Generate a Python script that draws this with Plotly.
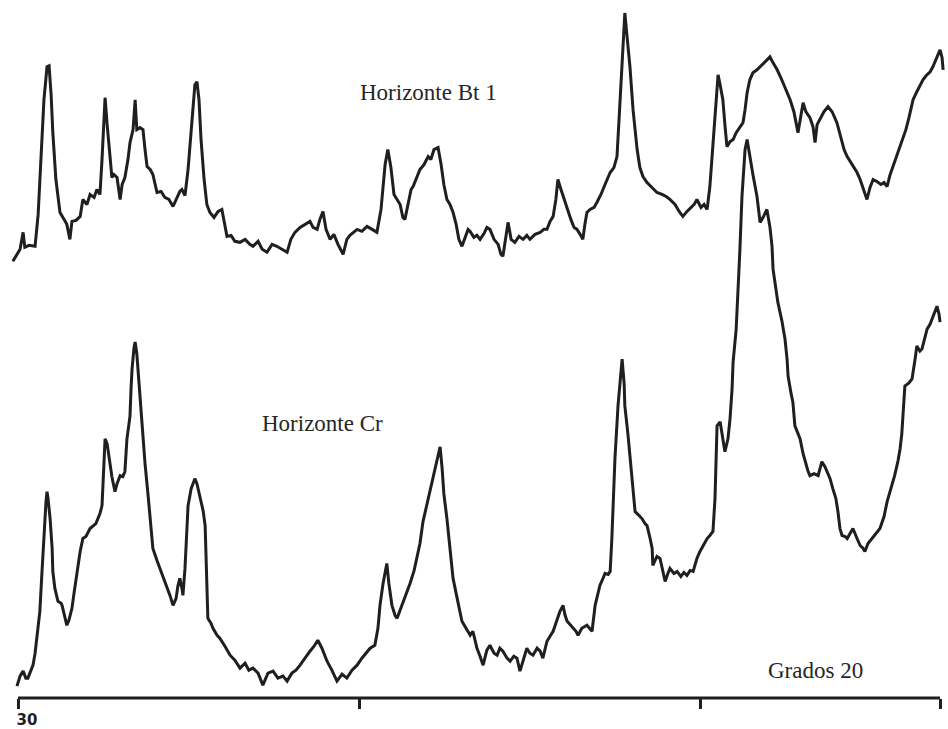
import plotly.graph_objects as go

# ---- Data (2-theta in degrees, intensity in arbitrary units) ----
bt_2theta = [30.15, 30.03, 29.94, 29.85, 29.80, 29.68, 29.50, 29.41, 29.33, 29.24, 29.15, 29.09, 29.03, 28.98, 28.89, 28.77, 28.65, 28.57, 28.48, 28.42, 28.30, 28.18, 28.10, 27.98, 27.89, 27.77, 27.69, 27.60, 27.54, 27.45, 27.39, 27.31, 27.25, 27.19, 27.10, 27.01, 26.95, 26.87, 26.78, 26.72, 26.63, 26.57, 26.52, 26.43, 26.34, 26.28, 26.22, 26.13, 26.05, 25.93, 25.81, 25.70, 25.58, 25.46, 25.34, 25.26, 25.20, 25.11, 25.02, 24.90, 24.82, 24.76, 24.70, 24.64, 24.55, 24.47, 24.38, 24.26, 24.14, 24.03, 23.94, 23.88, 23.76, 23.65, 23.50, 23.35, 23.21, 23.12, 22.97, 22.85, 22.71, 22.56, 22.42, 22.27, 22.12, 22.01, 21.89, 21.74, 21.60, 21.45, 21.36, 21.24, 21.16, 21.07, 20.98, 20.86, 20.75, 20.63, 20.48, 20.37, 20.28, 20.19, 20.07, 19.93, 19.78, 19.63, 19.49, 19.37, 19.25, 19.17, 19.08, 18.99, 18.90, 18.81, 18.73, 18.67, 18.58, 18.49, 18.43, 18.32, 18.23, 18.11, 17.99, 17.91, 17.82, 17.70, 17.61, 17.53, 17.44, 17.35, 17.26, 17.17, 17.09, 17.00, 16.91, 16.82, 16.76, 16.65, 16.56, 16.47, 16.35, 16.27, 16.18, 16.06, 15.94, 15.86, 15.80, 15.71, 15.65, 15.56, 15.45, 15.33, 15.21, 15.10, 15.01, 14.86, 14.71, 14.60, 14.51, 14.42, 14.33, 14.25, 14.19, 14.10, 14.01, 13.92, 13.81, 13.72, 13.63, 13.54, 13.46, 13.40, 13.34, 13.25, 13.13, 13.05, 12.93, 12.81, 12.72, 12.66, 12.55, 12.46, 12.40, 12.31, 12.25, 12.23, 12.17, 12.08, 11.99, 11.87, 11.79, 11.70, 11.58, 11.43, 11.29, 11.14, 11.02, 10.91, 10.76, 10.64, 10.53, 10.41, 10.29, 10.20, 10.12, 10.00, 9.91, 9.82, 9.74, 9.68, 9.59, 9.50, 9.44, 9.36, 9.30, 9.24, 9.15, 9.06, 8.97, 8.86, 8.77, 8.71, 8.65, 8.57, 8.48, 8.36, 8.27, 8.15, 8.07, 7.98, 7.89, 7.77, 7.66, 7.54, 7.39, 7.28, 7.16, 7.07, 7.01, 6.93, 6.81, 6.72, 6.66, 6.60, 6.52, 6.40, 6.28, 6.16, 6.02, 5.90, 5.81, 5.72, 5.61, 5.52, 5.43, 5.34, 5.23, 5.14, 5.05, 4.96, 4.85, 4.73, 4.64, 4.55, 4.47, 4.38, 4.26, 4.17, 4.09, 4.00, 3.91, 3.79, 3.68, 3.59, 3.50, 3.41, 3.29, 3.21, 3.12, 3.06, 3.00, 2.94, 2.91]
bt_intensity = [438, 445, 450, 467, 452, 454, 453, 485, 540, 600, 633, 634, 605, 567, 520, 487, 480, 475, 460, 478, 479, 483, 500, 495, 505, 502, 510, 505, 540, 602, 575, 540, 522, 525, 522, 500, 515, 522, 540, 557, 570, 600, 570, 572, 570, 550, 533, 530, 525, 507, 508, 502, 500, 493, 502, 508, 510, 504, 530, 580, 615, 618, 600, 560, 520, 495, 487, 482, 488, 490, 475, 463, 464, 458, 457, 460, 455, 453, 458, 450, 447, 455, 453, 450, 447, 460, 467, 472, 475, 478, 472, 470, 480, 488, 470, 460, 465, 455, 445, 460, 464, 467, 470, 468, 473, 470, 467, 490, 535, 550, 532, 505, 500, 495, 482, 480, 495, 510, 513, 523, 530, 535, 543, 540, 550, 552, 535, 515, 500, 495, 487, 475, 460, 453, 462, 470, 468, 462, 464, 460, 466, 472, 470, 460, 455, 445, 443, 462, 477, 460, 457, 463, 460, 464, 460, 465, 467, 470, 470, 478, 483, 500, 520, 510, 500, 490, 480, 472, 470, 465, 460, 475, 487, 490, 492, 497, 505, 515, 522, 527, 532, 543, 580, 633, 665, 687, 665, 633, 590, 550, 532, 523, 517, 512, 507, 505, 503, 500, 495, 488, 483, 488, 492, 495, 500, 492, 495, 490, 513, 540, 583, 625, 615, 600, 575, 553, 558, 560, 567, 572, 577, 590, 607, 620, 627, 630, 633, 638, 640, 643, 637, 630, 622, 612, 600, 588, 567, 585, 597, 588, 582, 573, 557, 575, 580, 588, 593, 588, 577, 562, 550, 543, 537, 532, 527, 520, 510, 500, 512, 520, 518, 515, 517, 513, 524, 533, 543, 552, 560, 570, 582, 600, 608, 614, 620, 624, 628, 633, 640, 645, 650, 642, 630]

cr_2theta = [30.03, 29.94, 29.85, 29.77, 29.71, 29.62, 29.56, 29.50, 29.41, 29.36, 29.30, 29.24, 29.18, 29.15, 29.12, 29.06, 29.00, 28.98, 28.92, 28.83, 28.74, 28.71, 28.65, 28.57, 28.51, 28.42, 28.36, 28.27, 28.21, 28.18, 28.10, 28.01, 27.89, 27.80, 27.72, 27.66, 27.60, 27.54, 27.48, 27.45, 27.39, 27.31, 27.25, 27.16, 27.10, 27.01, 26.93, 26.87, 26.81, 26.75, 26.72, 26.69, 26.66, 26.60, 26.57, 26.52, 26.49, 26.43, 26.34, 26.28, 26.19, 26.13, 26.05, 25.93, 25.84, 25.75, 25.64, 25.55, 25.46, 25.37, 25.32, 25.26, 25.20, 25.17, 25.11, 25.02, 24.93, 24.82, 24.76, 24.67, 24.58, 24.52, 24.47, 24.44, 24.35, 24.29, 24.17, 24.09, 23.94, 23.79, 23.65, 23.50, 23.35, 23.24, 23.12, 22.97, 22.83, 22.68, 22.53, 22.39, 22.24, 22.12, 21.98, 21.86, 21.74, 21.60, 21.45, 21.33, 21.22, 21.10, 20.95, 20.81, 20.66, 20.51, 20.37, 20.22, 20.07, 19.93, 19.81, 19.69, 19.55, 19.46, 19.40, 19.31, 19.20, 19.14, 19.05, 18.96, 18.90, 18.79, 18.67, 18.52, 18.40, 18.32, 18.23, 18.14, 17.99, 17.85, 17.73, 17.64, 17.58, 17.53, 17.44, 17.35, 17.26, 17.14, 17.00, 16.88, 16.76, 16.68, 16.56, 16.47, 16.38, 16.27, 16.18, 16.06, 15.97, 15.89, 15.80, 15.68, 15.59, 15.48, 15.39, 15.30, 15.21, 15.10, 15.01, 14.92, 14.80, 14.71, 14.63, 14.51, 14.42, 14.33, 14.22, 14.13, 14.04, 13.98, 13.92, 13.84, 13.75, 13.66, 13.60, 13.49, 13.34, 13.25, 13.19, 13.10, 13.02, 12.96, 12.87, 12.81, 12.72, 12.66, 12.61, 12.58, 12.52, 12.43, 12.37, 12.31, 12.25, 12.23, 12.14, 12.08, 11.99, 11.93, 11.84, 11.73, 11.64, 11.58, 11.49, 11.43, 11.41, 11.29, 11.20, 11.11, 11.05, 10.97, 10.91, 10.79, 10.70, 10.59, 10.50, 10.41, 10.32, 10.23, 10.12, 10.03, 9.91, 9.82, 9.74, 9.65, 9.59, 9.53, 9.44, 9.36, 9.30, 9.21, 9.15, 9.09, 9.06, 8.97, 8.92, 8.86, 8.80, 8.74, 8.71, 8.65, 8.59, 8.57, 8.48, 8.36, 8.27, 8.18, 8.07, 7.98, 7.92, 7.89, 7.80, 7.75, 7.63, 7.54, 7.48, 7.45, 7.36, 7.31, 7.25, 7.19, 7.10, 7.01, 6.95, 6.87, 6.81, 6.69, 6.57, 6.52, 6.46, 6.37, 6.31, 6.22, 6.14, 6.05, 5.99, 5.93, 5.87, 5.78, 5.72, 5.64, 5.55, 5.43, 5.34, 5.25, 5.20, 5.11, 4.99, 4.88, 4.76, 4.64, 4.55, 4.44, 4.33, 4.23, 4.17, 4.12, 4.09, 4.06, 4.03, 3.91, 3.82, 3.73, 3.68, 3.59, 3.53, 3.44, 3.38, 3.29, 3.21, 3.15, 3.09, 3.03, 3.00]
cr_intensity = [12, 22, 27, 20, 20, 28, 33, 45, 70, 87, 125, 165, 197, 207, 200, 180, 150, 127, 110, 97, 95, 93, 85, 73, 78, 90, 105, 127, 140, 147, 160, 162, 170, 173, 175, 180, 185, 193, 230, 260, 255, 237, 222, 207, 215, 223, 222, 227, 260, 275, 283, 310, 330, 352, 357, 345, 330, 300, 263, 235, 203, 180, 150, 138, 130, 122, 113, 103, 93, 100, 112, 120, 110, 103, 130, 193, 210, 220, 215, 200, 188, 173, 120, 80, 75, 70, 63, 60, 52, 43, 38, 30, 35, 28, 30, 25, 13, 25, 27, 20, 22, 17, 25, 28, 33, 40, 47, 52, 58, 50, 37, 28, 17, 24, 20, 28, 33, 40, 45, 50, 53, 70, 93, 115, 135, 115, 93, 83, 80, 90, 100, 115, 128, 140, 155, 177, 200, 220, 238, 252, 230, 205, 180, 150, 120, 100, 77, 70, 63, 67, 50, 42, 33, 48, 53, 45, 43, 50, 47, 40, 37, 42, 40, 27, 38, 50, 45, 43, 50, 47, 40, 57, 62, 67, 78, 87, 93, 83, 77, 74, 70, 67, 63, 70, 73, 70, 67, 93, 105, 113, 120, 125, 124, 127, 160, 193, 240, 293, 320, 340, 315, 293, 265, 243, 210, 187, 184, 180, 175, 173, 160, 150, 133, 142, 140, 125, 117, 125, 130, 125, 127, 122, 126, 123, 128, 127, 140, 147, 155, 160, 163, 167, 200, 273, 277, 260, 247, 260, 280, 310, 337, 370, 403, 450, 503, 535, 550, 560, 548, 540, 525, 503, 477, 482, 490, 472, 453, 430, 410, 397, 378, 360, 340, 323, 305, 297, 273, 267, 260, 245, 237, 228, 223, 225, 223, 230, 237, 232, 227, 220, 210, 200, 187, 170, 163, 162, 160, 165, 170, 160, 153, 150, 147, 155, 160, 165, 170, 182, 197, 210, 223, 238, 250, 265, 280, 300, 313, 316, 320, 340, 353, 348, 350, 362, 370, 375, 383, 388, 393, 385, 377]

axis_ticks = [30, 20, 10, 3]
axis_ticktext = ["<b>30</b>", "", "", ""]

labels = ["Horizonte Bt 1", "Horizonte Cr", "Grados 20"]
label_x = [17.99, 21.07, 6.66]
label_y = [607, 275, 28]

assert len(bt_2theta) == len(bt_intensity), (len(bt_2theta), len(bt_intensity))
assert len(cr_2theta) == len(cr_intensity), (len(cr_2theta), len(cr_intensity))

INK = "#1f1f1f"

fig = go.Figure()

# baseline (2-theta axis)
fig.add_trace(go.Scatter(x=[axis_ticks[0], axis_ticks[-1]], y=[0, 0], mode="lines",
                         line=dict(color=INK, width=3), hoverinfo="skip", showlegend=False))

fig.add_trace(go.Scatter(x=bt_2theta, y=bt_intensity, mode="lines", name="Horizonte Bt 1",
                         line=dict(color=INK, width=3), showlegend=False))
fig.add_trace(go.Scatter(x=cr_2theta, y=cr_intensity, mode="lines", name="Horizonte Cr",
                         line=dict(color=INK, width=3), showlegend=False))

for t, lx, ly in zip(labels, label_x, label_y):
    fig.add_annotation(x=lx, y=ly, text=t, showarrow=False, xanchor="center", yanchor="middle",
                       font=dict(family="Liberation Serif", size=23, color="#262626"))

fig.update_layout(
    width=948, height=729,
    margin=dict(l=0, r=0, t=0, b=0),
    paper_bgcolor="white", plot_bgcolor="white",
    xaxis=dict(range=[30.527, 2.767], showgrid=False, zeroline=False, showline=False,
               anchor="free", position=29 / 729,
               tickmode="array", tickvals=axis_ticks, ticktext=axis_ticktext,
               ticks="outside", ticklen=10, tickwidth=3, tickcolor=INK,
               ticklabelshift=-9, ticklabelstandoff=-2,
               tickfont=dict(family="DejaVu Sans", size=15, color=INK)),
    yaxis=dict(range=[-29, 700], visible=False, showgrid=False, zeroline=False),
)

fig.write_html("out.html")
